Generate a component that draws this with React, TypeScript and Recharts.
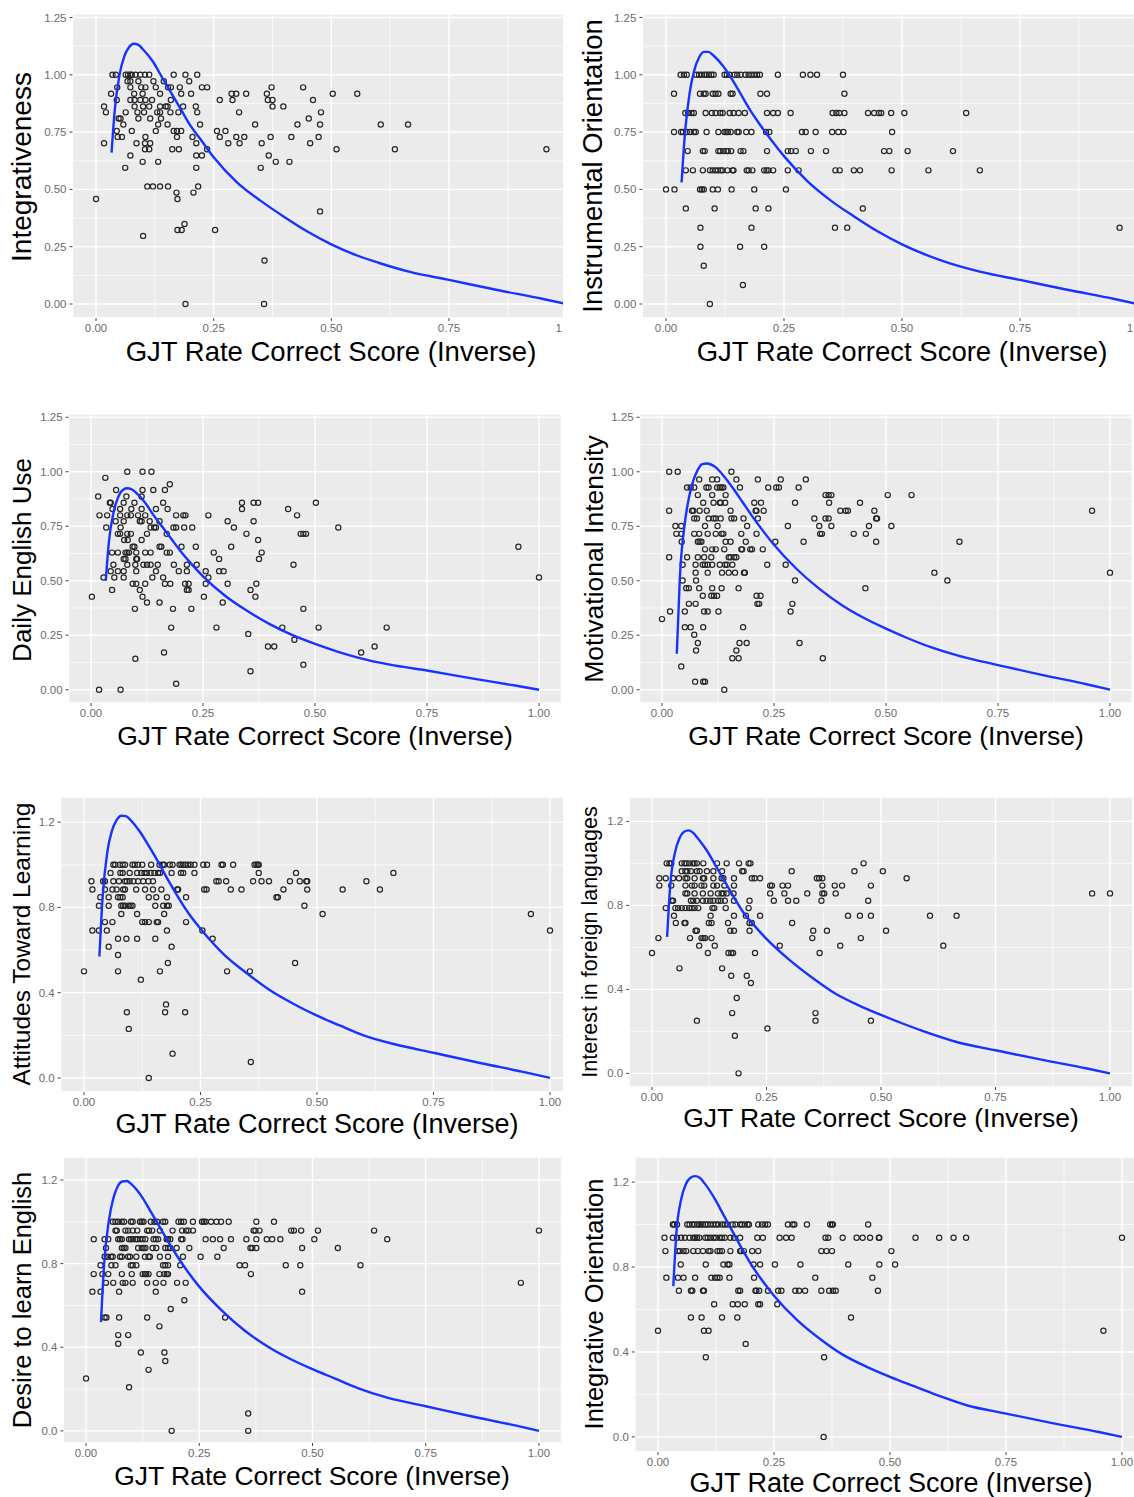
import { ScatterChart, Scatter, XAxis, YAxis, CartesianGrid } from "recharts"

const FONT = '"Liberation Sans", Arial, Helvetica, sans-serif'

const curveX = [0.033, 0.04, 0.05, 0.06, 0.07, 0.08, 0.09, 0.1, 0.12, 0.14, 0.16, 0.18, 0.2, 0.225, 0.25, 0.3, 0.35, 0.4, 0.45, 0.5, 0.55, 0.6, 0.667, 0.75, 0.85, 0.95, 1.0]

const integrativenessCurve = [0.66, 0.85, 1.0, 1.08, 1.12, 1.135, 1.13, 1.11, 1.06, 0.99, 0.92, 0.85, 0.78, 0.71, 0.64, 0.53, 0.45, 0.38, 0.315, 0.26, 0.215, 0.18, 0.14, 0.105, 0.062, 0.022, 0.0]
const instrumentalCurve = [0.53, 0.74, 0.92, 1.02, 1.075, 1.1, 1.1, 1.085, 1.04, 0.98, 0.91, 0.84, 0.78, 0.71, 0.645, 0.535, 0.45, 0.38, 0.315, 0.26, 0.215, 0.178, 0.14, 0.105, 0.062, 0.022, 0.0]
const dailyUseCurve = [0.5, 0.68, 0.81, 0.88, 0.915, 0.924, 0.92, 0.905, 0.86, 0.8, 0.745, 0.69, 0.635, 0.575, 0.52, 0.43, 0.36, 0.3, 0.25, 0.21, 0.175, 0.145, 0.115, 0.088, 0.052, 0.018, 0.0]
const motivationCurve = [0.165, 0.52, 0.75, 0.88, 0.96, 1.01, 1.035, 1.038, 1.02, 0.975, 0.92, 0.86, 0.8, 0.73, 0.665, 0.555, 0.465, 0.39, 0.33, 0.28, 0.235, 0.195, 0.153, 0.113, 0.067, 0.024, 0.0]
const attitudesCurve = [0.57, 0.85, 1.06, 1.16, 1.21, 1.23, 1.228, 1.21, 1.155, 1.085, 1.01, 0.93, 0.855, 0.77, 0.7, 0.58, 0.49, 0.41, 0.347, 0.292, 0.245, 0.2, 0.158, 0.118, 0.07, 0.025, 0.0]
const interestCurve = [0.65, 0.9, 1.05, 1.12, 1.15, 1.157, 1.145, 1.12, 1.06, 0.985, 0.91, 0.835, 0.765, 0.7, 0.64, 0.54, 0.455, 0.38, 0.325, 0.278, 0.235, 0.195, 0.148, 0.11, 0.065, 0.023, 0.0]
const desireCurve = [0.52, 0.8, 1.0, 1.11, 1.17, 1.193, 1.195, 1.18, 1.13, 1.06, 0.985, 0.91, 0.84, 0.76, 0.69, 0.575, 0.48, 0.405, 0.345, 0.295, 0.25, 0.205, 0.158, 0.118, 0.07, 0.025, 0.0]
const integrativeOrCurve = [0.71, 0.97, 1.12, 1.19, 1.22, 1.228, 1.22, 1.195, 1.13, 1.05, 0.97, 0.89, 0.815, 0.735, 0.665, 0.55, 0.46, 0.385, 0.33, 0.283, 0.24, 0.198, 0.148, 0.11, 0.065, 0.023, 0.0]

// scatter points, grouped by score level: [y, x values]
const integrativenessPts: [number, number[]][] = [
  [1.0, [0.035, 0.042, 0.063, 0.068, 0.073, 0.076, 0.084, 0.094, 0.104, 0.113, 0.165, 0.19, 0.215]],
  [0.972, [0.067, 0.073, 0.09, 0.122, 0.144, 0.198]],
  [0.945, [0.045, 0.073, 0.096, 0.105, 0.127, 0.153, 0.159, 0.178, 0.225, 0.236, 0.373, 0.44]],
  [0.917, [0.032, 0.081, 0.099, 0.136, 0.181, 0.202, 0.288, 0.298, 0.319, 0.363, 0.503, 0.555]],
  [0.89, [0.044, 0.073, 0.082, 0.094, 0.105, 0.119, 0.159, 0.263, 0.29, 0.365, 0.375, 0.461]],
  [0.862, [0.017, 0.082, 0.1, 0.113, 0.136, 0.148, 0.152, 0.185, 0.212, 0.375, 0.398]],
  [0.836, [0.021, 0.063, 0.088, 0.102, 0.13, 0.136, 0.158, 0.175, 0.215, 0.304, 0.478]],
  [0.809, [0.048, 0.052, 0.09, 0.115, 0.138, 0.452]],
  [0.783, [0.058, 0.132, 0.152, 0.221, 0.338, 0.428, 0.476, 0.605, 0.663]],
  [0.755, [0.044, 0.076, 0.127, 0.165, 0.172, 0.181, 0.257, 0.275]],
  [0.729, [0.046, 0.055, 0.105, 0.172, 0.205, 0.263, 0.298, 0.315, 0.371, 0.415, 0.473]],
  [0.701, [0.017, 0.086, 0.104, 0.115, 0.213, 0.281, 0.305, 0.352, 0.455]],
  [0.675, [0.104, 0.113, 0.162, 0.176, 0.236, 0.511, 0.635, 0.957]],
  [0.648, [0.073, 0.213, 0.225, 0.367]],
  [0.62, [0.099, 0.132, 0.382, 0.411]],
  [0.594, [0.062, 0.213, 0.35]],
  [0.513, [0.109, 0.121, 0.136, 0.153, 0.217]],
  [0.486, [0.171, 0.207]],
  [0.458, [0.0, 0.173]],
  [0.404, [0.476]],
  [0.349, [0.188]],
  [0.323, [0.173, 0.182, 0.253]],
  [0.297, [0.1]],
  [0.19, [0.358]],
  [0.0, [0.19, 0.357]],
]

const instrumentalPts: [number, number[]][] = [
  [1.0, [0.031, 0.038, 0.044, 0.064, 0.07, 0.076, 0.082, 0.086, 0.091, 0.096, 0.101, 0.124, 0.129, 0.135, 0.145, 0.151, 0.158, 0.168, 0.175, 0.181, 0.187, 0.193, 0.199, 0.237, 0.29, 0.306, 0.32, 0.375]],
  [0.917, [0.017, 0.072, 0.08, 0.084, 0.099, 0.105, 0.111, 0.137, 0.141, 0.2, 0.214, 0.378]],
  [0.833, [0.041, 0.047, 0.054, 0.059, 0.084, 0.097, 0.105, 0.115, 0.12, 0.135, 0.143, 0.154, 0.167, 0.214, 0.227, 0.237, 0.264, 0.353, 0.361, 0.367, 0.378, 0.428, 0.441, 0.451, 0.456, 0.477, 0.505, 0.636]],
  [0.75, [0.017, 0.032, 0.036, 0.044, 0.051, 0.059, 0.063, 0.086, 0.111, 0.124, 0.128, 0.131, 0.137, 0.151, 0.154, 0.17, 0.181, 0.212, 0.219, 0.288, 0.296, 0.317, 0.352, 0.365, 0.376, 0.479]],
  [0.667, [0.046, 0.078, 0.082, 0.111, 0.115, 0.122, 0.128, 0.131, 0.138, 0.158, 0.164, 0.214, 0.258, 0.265, 0.275, 0.307, 0.339, 0.462, 0.473, 0.512, 0.608]],
  [0.583, [0.042, 0.057, 0.078, 0.093, 0.099, 0.105, 0.11, 0.116, 0.12, 0.13, 0.141, 0.143, 0.171, 0.175, 0.183, 0.208, 0.213, 0.217, 0.227, 0.258, 0.281, 0.359, 0.368, 0.398, 0.411, 0.478, 0.556, 0.665]],
  [0.5, [0.0, 0.018, 0.072, 0.076, 0.08, 0.099, 0.11, 0.139, 0.187, 0.254]],
  [0.417, [0.042, 0.103, 0.19, 0.217, 0.417]],
  [0.333, [0.073, 0.181, 0.358, 0.384, 0.961]],
  [0.25, [0.073, 0.157, 0.208]],
  [0.167, [0.08]],
  [0.083, [0.163]],
  [0.0, [0.093]],
]

const dailyUsePts: [number, number[]][] = [
  [1.0, [0.081, 0.115, 0.135]],
  [0.972, [0.032]],
  [0.943, [0.176]],
  [0.916, [0.056, 0.115, 0.139, 0.165]],
  [0.887, [0.016, 0.079, 0.113]],
  [0.858, [0.042, 0.044, 0.073, 0.097, 0.161, 0.337, 0.363, 0.373, 0.502]],
  [0.829, [0.048, 0.065, 0.09, 0.113, 0.145, 0.171, 0.337, 0.44]],
  [0.8, [0.019, 0.036, 0.065, 0.081, 0.089, 0.105, 0.121, 0.19, 0.206, 0.211, 0.262, 0.46]],
  [0.773, [0.055, 0.073, 0.109, 0.113, 0.131, 0.153, 0.305, 0.363]],
  [0.744, [0.034, 0.066, 0.133, 0.141, 0.145, 0.184, 0.19, 0.208, 0.226, 0.319, 0.552]],
  [0.715, [0.06, 0.065, 0.081, 0.089, 0.125, 0.169, 0.347, 0.468, 0.474, 0.48]],
  [0.687, [0.074, 0.082, 0.113, 0.373]],
  [0.656, [0.093, 0.097, 0.153, 0.157, 0.202, 0.234, 0.313, 0.954]],
  [0.629, [0.047, 0.06, 0.077, 0.081, 0.085, 0.101, 0.121, 0.133, 0.169, 0.176, 0.274, 0.381]],
  [0.6, [0.073, 0.077, 0.101, 0.103, 0.286, 0.375]],
  [0.573, [0.05, 0.081, 0.099, 0.117, 0.125, 0.133, 0.149, 0.185, 0.214, 0.236, 0.452]],
  [0.544, [0.044, 0.06, 0.073, 0.101, 0.145, 0.196, 0.214, 0.256, 0.286, 0.296]],
  [0.515, [0.028, 0.052, 0.073, 0.137, 0.161, 0.262, 1.0]],
  [0.486, [0.093, 0.101, 0.121, 0.165, 0.177, 0.21, 0.218, 0.256, 0.305, 0.369]],
  [0.458, [0.047, 0.109, 0.214, 0.218, 0.356]],
  [0.427, [0.002, 0.115, 0.252, 0.367]],
  [0.4, [0.125, 0.153, 0.294]],
  [0.371, [0.098, 0.183, 0.224, 0.474]],
  [0.285, [0.179, 0.28, 0.427, 0.508, 0.66]],
  [0.256, [0.351]],
  [0.229, [0.454]],
  [0.198, [0.395, 0.409, 0.633]],
  [0.171, [0.163, 0.603]],
  [0.142, [0.099]],
  [0.115, [0.474]],
  [0.085, [0.356]],
  [0.027, [0.19]],
  [0.0, [0.018, 0.066]],
]

const motivationPts: [number, number[]][] = [
  [1.0, [0.016, 0.035, 0.155]],
  [0.965, [0.083, 0.112, 0.123, 0.166, 0.214, 0.265, 0.321]],
  [0.928, [0.056, 0.064, 0.072, 0.099, 0.104, 0.123, 0.129, 0.133, 0.137, 0.174, 0.237, 0.255, 0.261, 0.305]],
  [0.893, [0.08, 0.112, 0.142, 0.365, 0.372, 0.378, 0.504, 0.557]],
  [0.858, [0.092, 0.115, 0.129, 0.131, 0.141, 0.206, 0.221, 0.297, 0.373, 0.442]],
  [0.821, [0.016, 0.067, 0.07, 0.084, 0.1, 0.153, 0.209, 0.211, 0.227, 0.398, 0.41, 0.415, 0.474, 0.96]],
  [0.786, [0.072, 0.078, 0.104, 0.115, 0.12, 0.131, 0.155, 0.161, 0.182, 0.214, 0.34, 0.365, 0.372, 0.478, 0.48]],
  [0.751, [0.03, 0.043, 0.096, 0.124, 0.19, 0.281, 0.351, 0.378, 0.462, 0.512]],
  [0.715, [0.032, 0.043, 0.072, 0.083, 0.102, 0.12, 0.133, 0.137, 0.177, 0.211, 0.353, 0.357, 0.428, 0.455]],
  [0.679, [0.044, 0.08, 0.084, 0.088, 0.142, 0.153, 0.187, 0.253, 0.316, 0.478, 0.664]],
  [0.644, [0.096, 0.112, 0.12, 0.139, 0.177, 0.179, 0.197, 0.201, 0.225]],
  [0.608, [0.016, 0.056, 0.08, 0.094, 0.11, 0.149, 0.153, 0.161, 0.166]],
  [0.573, [0.046, 0.075, 0.091, 0.096, 0.102, 0.112, 0.129, 0.141, 0.145, 0.157, 0.235, 0.276]],
  [0.537, [0.075, 0.102, 0.134, 0.149, 0.163, 0.183, 0.185, 0.608, 1.0]],
  [0.501, [0.046, 0.076, 0.297, 0.637]],
  [0.466, [0.054, 0.06, 0.083, 0.112, 0.133, 0.171, 0.454]],
  [0.431, [0.091, 0.11, 0.116, 0.123, 0.211, 0.22]],
  [0.394, [0.06, 0.075, 0.213, 0.217, 0.291]],
  [0.359, [0.018, 0.051, 0.094, 0.102, 0.126, 0.287]],
  [0.324, [0.0]],
  [0.287, [0.051, 0.064, 0.092, 0.181]],
  [0.252, [0.072]],
  [0.214, [0.08, 0.173, 0.189, 0.307]],
  [0.18, [0.076, 0.166]],
  [0.144, [0.157, 0.171, 0.359]],
  [0.107, [0.043]],
  [0.037, [0.074, 0.092, 0.096]],
  [0.0, [0.139]],
]

const attitudesPts: [number, number[]][] = [
  [1.0, [0.063, 0.067, 0.077, 0.083, 0.088, 0.104, 0.109, 0.116, 0.125, 0.144, 0.162, 0.169, 0.172, 0.184, 0.19, 0.205, 0.209, 0.213, 0.217, 0.223, 0.229, 0.237, 0.256, 0.264, 0.295, 0.298, 0.32, 0.366, 0.37, 0.373, 0.375]],
  [0.962, [0.057, 0.078, 0.083, 0.098, 0.114, 0.123, 0.13, 0.135, 0.143, 0.151, 0.159, 0.163, 0.188, 0.208, 0.213, 0.237, 0.375, 0.455, 0.664]],
  [0.923, [0.016, 0.041, 0.045, 0.063, 0.075, 0.088, 0.092, 0.098, 0.106, 0.116, 0.127, 0.138, 0.148, 0.284, 0.289, 0.305, 0.363, 0.381, 0.397, 0.442, 0.463, 0.477, 0.479, 0.606]],
  [0.884, [0.018, 0.045, 0.061, 0.07, 0.084, 0.088, 0.112, 0.131, 0.148, 0.166, 0.2, 0.202, 0.258, 0.263, 0.315, 0.338, 0.428, 0.479, 0.555, 0.635]],
  [0.848, [0.035, 0.053, 0.073, 0.078, 0.083, 0.139, 0.155, 0.178, 0.219, 0.413, 0.416]],
  [0.808, [0.032, 0.053, 0.08, 0.084, 0.088, 0.096, 0.1, 0.104, 0.153, 0.17, 0.178, 0.182, 0.473]],
  [0.769, [0.08, 0.114, 0.172, 0.512, 0.959]],
  [0.731, [0.045, 0.061, 0.125, 0.131, 0.139, 0.156, 0.159, 0.219]],
  [0.692, [0.018, 0.032, 0.049, 0.178, 0.254, 1.0]],
  [0.653, [0.073, 0.091, 0.114, 0.153, 0.276]],
  [0.616, [0.053, 0.188]],
  [0.577, [0.073]],
  [0.539, [0.18, 0.453]],
  [0.5, [0.0, 0.073, 0.163, 0.307, 0.356]],
  [0.461, [0.122]],
  [0.345, [0.176]],
  [0.308, [0.092, 0.174, 0.217]],
  [0.23, [0.096]],
  [0.114, [0.19]],
  [0.075, [0.358]],
  [0.0, [0.139]],
]

const interestPts: [number, number[]][] = [
  [1.0, [0.032, 0.038, 0.042, 0.065, 0.071, 0.075, 0.081, 0.089, 0.093, 0.098, 0.112, 0.142, 0.163, 0.19, 0.211, 0.215, 0.462]],
  [0.963, [0.065, 0.073, 0.077, 0.085, 0.098, 0.104, 0.12, 0.134, 0.153, 0.197, 0.2, 0.305, 0.442, 0.504]],
  [0.929, [0.016, 0.03, 0.046, 0.059, 0.073, 0.077, 0.093, 0.111, 0.114, 0.134, 0.152, 0.156, 0.179, 0.218, 0.224, 0.236, 0.36, 0.365, 0.372, 0.556]],
  [0.894, [0.016, 0.042, 0.073, 0.087, 0.093, 0.108, 0.114, 0.134, 0.142, 0.158, 0.179, 0.258, 0.262, 0.285, 0.297, 0.372, 0.399, 0.415, 0.478]],
  [0.857, [0.073, 0.077, 0.093, 0.111, 0.128, 0.144, 0.152, 0.156, 0.163, 0.178, 0.258, 0.289, 0.339, 0.372, 0.376, 0.401, 0.961, 1.0]],
  [0.822, [0.043, 0.046, 0.085, 0.09, 0.098, 0.111, 0.119, 0.127, 0.134, 0.144, 0.15, 0.159, 0.179, 0.213, 0.266, 0.297, 0.315, 0.37, 0.472]],
  [0.787, [0.03, 0.051, 0.057, 0.065, 0.073, 0.081, 0.087, 0.093, 0.101, 0.132, 0.136, 0.161, 0.211]],
  [0.751, [0.048, 0.128, 0.179, 0.205, 0.236, 0.428, 0.454, 0.478, 0.607, 0.665]],
  [0.716, [0.052, 0.071, 0.073, 0.124, 0.13, 0.166, 0.213, 0.218, 0.306]],
  [0.679, [0.095, 0.098, 0.171, 0.179, 0.213, 0.352, 0.382, 0.511]],
  [0.644, [0.014, 0.083, 0.108, 0.112, 0.116, 0.13, 0.35, 0.456]],
  [0.608, [0.103, 0.137, 0.279, 0.411, 0.636]],
  [0.573, [0.0, 0.122, 0.167, 0.173, 0.177, 0.225, 0.366]],
  [0.5, [0.06, 0.153]],
  [0.465, [0.173, 0.207]],
  [0.43, [0.216]],
  [0.359, [0.185]],
  [0.287, [0.175, 0.357]],
  [0.251, [0.098, 0.357, 0.478]],
  [0.214, [0.252]],
  [0.179, [0.181]],
  [0.0, [0.189]],
]

const desirePts: [number, number[]][] = [
  [1.0, [0.059, 0.065, 0.071, 0.079, 0.084, 0.099, 0.103, 0.119, 0.123, 0.127, 0.143, 0.151, 0.157, 0.17, 0.175, 0.204, 0.21, 0.216, 0.236, 0.256, 0.26, 0.264, 0.276, 0.288, 0.298, 0.315, 0.376, 0.415]],
  [0.958, [0.065, 0.068, 0.087, 0.093, 0.103, 0.113, 0.135, 0.139, 0.146, 0.163, 0.191, 0.212, 0.221, 0.226, 0.236, 0.37, 0.374, 0.383, 0.453, 0.459, 0.475, 0.512, 0.636, 1.0]],
  [0.917, [0.017, 0.041, 0.049, 0.071, 0.075, 0.079, 0.095, 0.099, 0.103, 0.109, 0.113, 0.119, 0.125, 0.131, 0.149, 0.154, 0.159, 0.178, 0.181, 0.186, 0.21, 0.213, 0.264, 0.28, 0.296, 0.32, 0.354, 0.376, 0.399, 0.411, 0.429, 0.504, 0.665]],
  [0.875, [0.044, 0.079, 0.083, 0.087, 0.115, 0.123, 0.127, 0.131, 0.147, 0.155, 0.175, 0.181, 0.186, 0.2, 0.228, 0.304, 0.363, 0.367, 0.376, 0.477, 0.556]],
  [0.833, [0.041, 0.047, 0.055, 0.059, 0.075, 0.079, 0.093, 0.097, 0.111, 0.13, 0.138, 0.141, 0.163, 0.181, 0.214, 0.253, 0.29]],
  [0.792, [0.032, 0.056, 0.065, 0.099, 0.103, 0.111, 0.17, 0.175, 0.181, 0.208, 0.339, 0.351, 0.441, 0.473, 0.606]],
  [0.75, [0.017, 0.036, 0.049, 0.079, 0.101, 0.125, 0.13, 0.133, 0.138, 0.162, 0.173, 0.178, 0.181, 0.364]],
  [0.708, [0.044, 0.06, 0.081, 0.087, 0.103, 0.135, 0.154, 0.171, 0.201, 0.22, 0.96]],
  [0.666, [0.014, 0.032, 0.073, 0.154, 0.477]],
  [0.625, [0.217]],
  [0.583, [0.187]],
  [0.542, [0.041, 0.045, 0.073, 0.135, 0.307]],
  [0.5, [0.162]],
  [0.458, [0.071, 0.093]],
  [0.417, [0.071]],
  [0.375, [0.121, 0.173]],
  [0.334, [0.175]],
  [0.292, [0.138]],
  [0.251, [0.0]],
  [0.209, [0.095]],
  [0.083, [0.358]],
  [0.0, [0.189, 0.358]],
]

const integrativeOrPts: [number, number[]][] = [
  [1.0, [0.032, 0.035, 0.041, 0.063, 0.068, 0.074, 0.078, 0.084, 0.088, 0.092, 0.097, 0.102, 0.107, 0.113, 0.119, 0.125, 0.13, 0.138, 0.144, 0.15, 0.161, 0.167, 0.177, 0.181, 0.187, 0.193, 0.196, 0.216, 0.224, 0.231, 0.237, 0.28, 0.29, 0.294, 0.321, 0.371, 0.375, 0.377, 0.453]],
  [0.938, [0.014, 0.032, 0.041, 0.05, 0.058, 0.068, 0.076, 0.08, 0.084, 0.089, 0.102, 0.107, 0.113, 0.12, 0.125, 0.133, 0.138, 0.144, 0.156, 0.164, 0.177, 0.214, 0.226, 0.262, 0.276, 0.288, 0.361, 0.367, 0.398, 0.428, 0.441, 0.457, 0.476, 0.477, 0.555, 0.606, 0.637, 0.664, 1.0]],
  [0.875, [0.016, 0.043, 0.047, 0.055, 0.061, 0.076, 0.086, 0.097, 0.109, 0.113, 0.128, 0.133, 0.138, 0.156, 0.177, 0.179, 0.185, 0.203, 0.216, 0.352, 0.363, 0.375, 0.503]],
  [0.812, [0.049, 0.103, 0.141, 0.15, 0.154, 0.206, 0.22, 0.252, 0.307, 0.41, 0.477, 0.511]],
  [0.75, [0.018, 0.043, 0.055, 0.08, 0.115, 0.123, 0.128, 0.133, 0.154, 0.207, 0.339, 0.462]],
  [0.688, [0.045, 0.071, 0.074, 0.097, 0.099, 0.173, 0.177, 0.21, 0.212, 0.218, 0.237, 0.259, 0.266, 0.296, 0.304, 0.317, 0.352, 0.369, 0.377, 0.383, 0.474]],
  [0.625, [0.121, 0.161, 0.172, 0.187, 0.216, 0.22, 0.257]],
  [0.562, [0.071, 0.094, 0.138, 0.171, 0.416]],
  [0.5, [0.0, 0.099, 0.109, 0.96]],
  [0.438, [0.189]],
  [0.375, [0.103, 0.358]],
  [0.0, [0.357]],
]

const xTicks = [0, 0.25, 0.5, 0.75, 1]
const xMinor = [0.125, 0.375, 0.625, 0.875]
const yTicksA = [0, 0.25, 0.5, 0.75, 1, 1.25]
const yMinorA = [0.125, 0.375, 0.625, 0.875, 1.125]
const yTicksB = [0, 0.4, 0.8, 1.2]
const yMinorB = [0.2, 0.6, 1.0]

const toPoints = (rows: [number, number[]][]) => rows.flatMap(([y, xs]) => xs.map((x) => ({ x, y })))
const toCurve = (ys: number[]) => curveX.map((x, i) => ({ x, y: ys[i] }))

const panels = [
  { yLabel: "Integrativeness", pts: integrativenessPts, curve: integrativenessCurve, ticks: "A",
    col: 0, gx0: 72.5, gx1: 590.2, gy0: 14, gy1: 318, yDom: [-0.061, 1.265], yT: [22, 167, 28], xT: [331, 352, 27.5] },
  { yLabel: "Instrumental Orientation", pts: instrumentalPts, curve: instrumentalCurve, ticks: "A",
    col: 570, gx0: 642.4, gx1: 1161.6, gy0: 14, gy1: 318, yDom: [-0.061, 1.265], yT: [593, 166, 27.5], xT: [902, 352, 27.5] },
  { yLabel: "Daily English Use", pts: dailyUsePts, curve: dailyUseCurve, ticks: "A",
    col: 0, gx0: 68.6, gx1: 561.4, gy0: 414, gy1: 703, yDom: [-0.061, 1.265], yT: [22, 560, 26], xT: [315, 736, 26.5] },
  { yLabel: "Motivational Intensity", pts: motivationPts, curve: motivationCurve, ticks: "A",
    col: 570, gx0: 639.6, gx1: 1132.4, gy0: 414, gy1: 703, yDom: [-0.061, 1.265], yT: [594, 559, 26.5], xT: [886, 736, 26.5] },
  { yLabel: "Attitudes Toward Learning", pts: attitudesPts, curve: attitudesCurve, ticks: "B",
    col: 0, gx0: 60.7, gx1: 573.3, gy0: 797, gy1: 1092, yDom: [-0.066, 1.318], yT: [22, 944, 24.5], xT: [317, 1124, 27] },
  { yLabel: "Interest in foreign languages", pts: interestPts, curve: interestCurve, ticks: "B",
    col: 570, gx0: 629.1, gx1: 1132.9, gy0: 797, gy1: 1087, yDom: [-0.065, 1.316], yT: [591, 942, 21.5], xT: [881, 1118, 26.5] },
  { yLabel: "Desire to learn English", pts: desirePts, curve: desireCurve, ticks: "B",
    col: 0, gx0: 63.4, gx1: 561.6, gy0: 1157, gy1: 1443, yDom: [-0.058, 1.31], yT: [23, 1300, 25.5], xT: [312, 1476, 26.5] },
  { yLabel: "Integrative Orientation", pts: integrativeOrPts, curve: integrativeOrCurve, ticks: "B",
    col: 570, gx0: 634.8, gx1: 1145.2, gy0: 1157, gy1: 1452, yDom: [-0.071, 1.318], yT: [595, 1304, 25.5], xT: [891, 1483, 27] },
]

const TOP_PAD = 8
const Y_AXIS_W = 40
const X_AXIS_H = 26

function OpenCircle(props: any) {
  return <circle cx={props.cx} cy={props.cy} r={2.6} fill="none" stroke="#262626" strokeWidth={1.2} />
}

function Panel({ p }: { p: (typeof panels)[number] }) {
  const width = p.gx1 - p.col
  const height = p.gy1 - p.gy0 + TOP_PAD + X_AXIS_H
  const clipW = p.col === 0 ? 563 : 564
  const isA = p.ticks === "A"
  const tickStyle = { fontSize: 11.5, fill: "#6b6b6b", fontFamily: FONT }
  return (
    <div style={{ position: "absolute", left: p.col, top: p.gy0 - TOP_PAD, width: clipW, height, overflow: "hidden" }}>
      <ScatterChart
        width={width}
        height={height}
        margin={{ top: TOP_PAD, right: 0, bottom: 0, left: p.gx0 - p.col - Y_AXIS_W }}
      >
        <CartesianGrid
          fill="#EBEBEB"
          stroke="#FFFFFF"
          strokeWidth={0.7}
          horizontalValues={isA ? yMinorA : yMinorB}
          verticalValues={xMinor}
        />
        <CartesianGrid stroke="#FFFFFF" strokeWidth={1.4} />
        <XAxis
          type="number"
          dataKey="x"
          domain={[-0.05, 1.05]}
          ticks={xTicks}
          interval={0}
          allowDataOverflow
          height={X_AXIS_H}
          axisLine={false}
          tickLine={{ stroke: "#444" }}
          tickSize={3}
          tickMargin={3}
          tick={tickStyle}
          tickFormatter={(v: number) => v.toFixed(2)}
        />
        <YAxis
          type="number"
          dataKey="y"
          domain={p.yDom}
          ticks={isA ? yTicksA : yTicksB}
          interval={0}
          allowDataOverflow
          width={Y_AXIS_W}
          axisLine={false}
          tickLine={{ stroke: "#444" }}
          tickSize={3}
          tickMargin={3}
          tick={tickStyle}
          tickFormatter={(v: number) => v.toFixed(isA ? 2 : 1)}
        />
        <Scatter data={toPoints(p.pts)} shape={OpenCircle} isAnimationActive={false} />
        <Scatter
          data={toCurve(p.curve)}
          shape={() => <g />}
          line={{ stroke: "#1733FF", strokeWidth: 2.4 }}
          lineJointType="monotoneX"
          isAnimationActive={false}
        />
      </ScatterChart>
    </div>
  )
}

export default function App() {
  return (
    <div style={{ position: "absolute", left: 0, top: 0, width: 1134, height: 1497, overflow: "hidden", background: "#fff", fontFamily: FONT }}>
      {panels.map((p) => (
        <Panel key={p.yLabel} p={p} />
      ))}
      {panels.map((p) => (
        <div key={p.yLabel + "-y"}
          style={{ position: "absolute", left: p.yT[0], top: p.yT[1], fontSize: p.yT[2], lineHeight: 1, whiteSpace: "nowrap", color: "#000",
            transform: "translate(-50%, -50%) rotate(-90deg)" }}>
          {p.yLabel}
        </div>
      ))}
      {panels.map((p) => (
        <div key={p.yLabel + "-x"}
          style={{ position: "absolute", left: p.xT[0], top: p.xT[1], fontSize: p.xT[2], lineHeight: 1, whiteSpace: "nowrap", color: "#000",
            transform: "translate(-50%, -50%)" }}>
          GJT Rate Correct Score (Inverse)
        </div>
      ))}
    </div>
  )
}
